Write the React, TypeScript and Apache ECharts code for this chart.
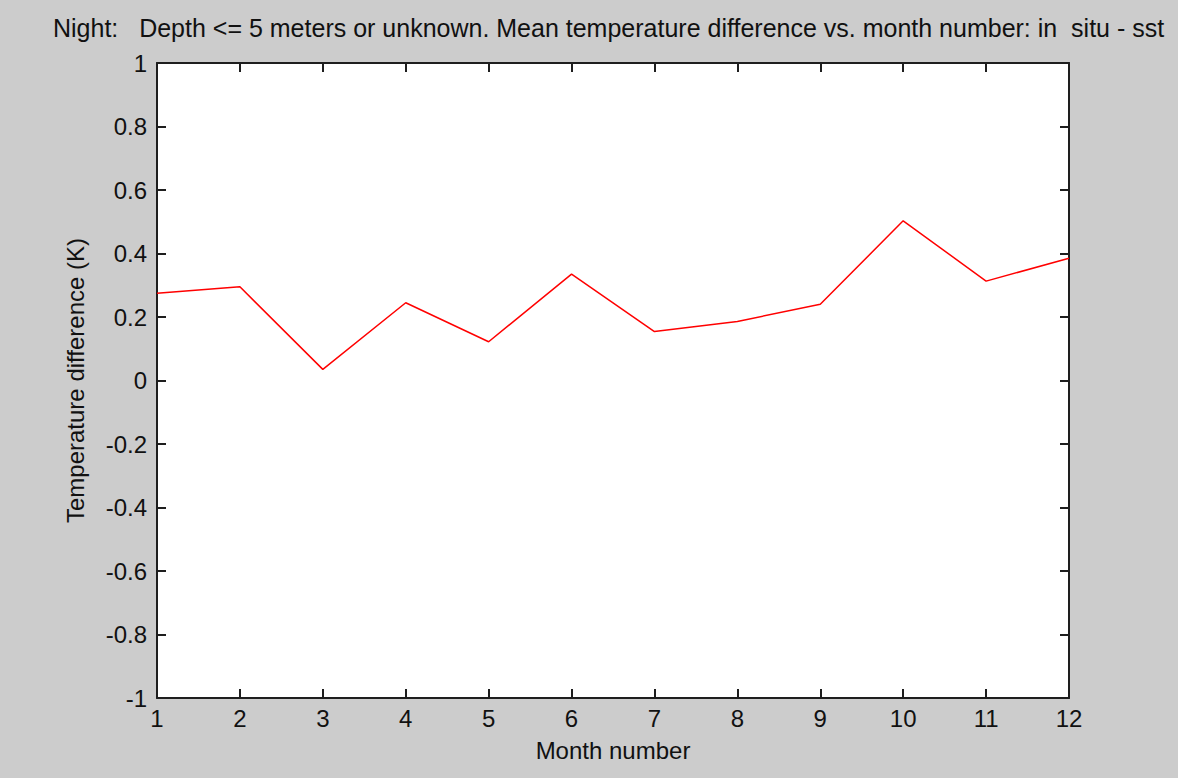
import React, { useEffect, useRef } from "react";
import * as echarts from "echarts";

const months = [1, 2, 3, 4, 5, 6, 7, 8, 9, 10, 11, 12];
const tempDiff = [0.275, 0.295, 0.035, 0.245, 0.122, 0.335, 0.154, 0.186, 0.24, 0.503, 0.313, 0.385];
const titleText = "Night:   Depth <= 5 meters or unknown. Mean temperature difference vs. month number: in  situ - sst";
const xName = "Month number";
const yName = "Temperature difference (K)";

const FONT = "'Liberation Sans', Arial, sans-serif";

export default function App() {
  const ref = useRef<HTMLDivElement>(null);
  useEffect(() => {
    document.body.style.margin = "0";
    const chart = echarts.init(ref.current!, null, { renderer: "svg" });
    const axisLine = { show: true, onZero: false, lineStyle: { color: "#1e1e1e", width: 2 } };
    const tick = { show: true, inside: true, length: 9, lineStyle: { color: "#1e1e1e", width: 2 } };
    const label = { color: "#111", fontSize: 24, fontFamily: FONT };
    chart.setOption({
      animation: false,
      backgroundColor: "#cccccc",
      title: {
        text: titleText,
        left: 48,
        top: 10,
        textStyle: { color: "#111", fontSize: 25, fontWeight: "normal", fontFamily: FONT },
      },
      grid: { left: 157, right: 109, top: 63, bottom: 80, show: true, backgroundColor: "#ffffff", borderWidth: 0 },
      xAxis: [
        {
          type: "value", min: 1, max: 12, interval: 1, position: "bottom",
          axisLine, axisTick: tick, splitLine: { show: false },
          axisLabel: { ...label, margin: 8 },
          name: xName, nameLocation: "middle", nameGap: 40,
          nameTextStyle: { color: "#111", fontSize: 24, fontFamily: FONT },
        },
        {
          type: "value", min: 1, max: 12, interval: 1, position: "top",
          axisLine, axisTick: tick, splitLine: { show: false }, axisLabel: { show: false },
        },
      ],
      yAxis: [
        {
          type: "value", min: -1, max: 1, interval: 0.2, position: "left",
          axisLine, axisTick: tick, splitLine: { show: false },
          axisLabel: { ...label, margin: 10, formatter: (v: number) => String(Number(v.toFixed(1))) },
          name: yName, nameLocation: "middle", nameGap: 70,
          nameTextStyle: { color: "#111", fontSize: 24, fontFamily: FONT },
        },
        {
          type: "value", min: -1, max: 1, interval: 0.2, position: "right",
          axisLine, axisTick: tick, splitLine: { show: false }, axisLabel: { show: false },
        },
      ],
      series: [
        {
          type: "line",
          xAxisIndex: 0,
          yAxisIndex: 0,
          data: months.map((m, i) => [m, tempDiff[i]]),
          showSymbol: false,
          symbol: "none",
          lineStyle: { color: "#ff0000", width: 1.5 },
        },
      ],
    });
    return () => chart.dispose();
  }, []);
  return <div ref={ref} style={{ position: "absolute", left: 0, top: 0, width: 1178, height: 778 }} />;
}
